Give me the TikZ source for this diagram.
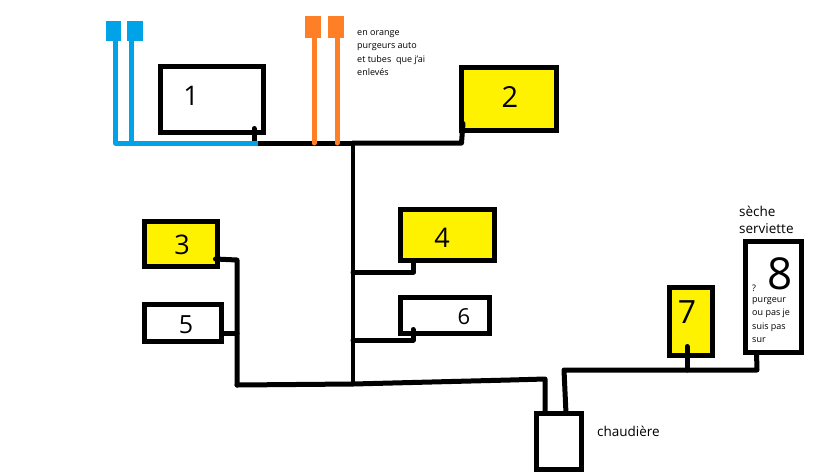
\documentclass[tikz,border=0pt]{standalone}
\usepackage{fontspec}
\setmainfont{Open Sans}
\begin{document}
\begin{tikzpicture}[
        x=1pt, y=-1pt,
        rad/.style={rectangle, draw=black, line width=5pt, inner sep=0pt, outer sep=0pt},
        hot/.style={rad, fill=radyellow},
        purge/.style={rectangle, inner sep=0pt, outer sep=0pt},
        pipe/.style={line width=5pt, line cap=round, line join=round},
        digit/.style={inner sep=0pt, font=\fontsize{#1}{#1}\selectfont},
        note/.style={inner sep=0pt, anchor=north west, align=left, font=\fontsize{9}{13.25}\selectfont},
        caption/.style={inner sep=0pt, anchor=north west, align=left, font=\fontsize{13.5}{17}\selectfont}
    ]
        \definecolor{radyellow}{HTML}{FFF200}
        \definecolor{pipeblue}{HTML}{00A2E8}
        \definecolor{pipeorange}{HTML}{FF7F27}
        \useasboundingbox (0,0) rectangle (819,475);

        % Radiators
        \node[rad, minimum width=103pt, minimum height=66pt] (r1) at (212,99.5) {};
        \node[hot, minimum width=95pt, minimum height=63pt] (r2) at (509,99) {};
        \node[hot, minimum width=73pt, minimum height=45pt] (r3) at (181,244) {};
        \node[hot, minimum width=94pt, minimum height=51pt] (r4) at (447.5,235) {};
        \node[rad, minimum width=77pt, minimum height=37pt] (r5) at (183,323) {};
        \node[rad, minimum width=89pt, minimum height=36pt] (r6) at (445,315.5) {};
        \node[hot, minimum width=43pt, minimum height=68pt] (r7) at (691,321.5) {};
        \node[rad, minimum width=56pt, minimum height=111pt] (r8) at (773.5,297) {};
        \node[rad, minimum width=45pt, minimum height=56pt] (boiler) at (559,441.5) {};

        % Numbers
        \node[digit=27] (n1) at (191,96) {1};
        \node[digit=29] (n2) at (510,97) {2};
        \node[digit=27] (n3) at (182,245) {3};
        \node[digit=27] (n4) at (442,238) {4};
        \node[digit=25] (n5) at (186,325) {5};
        \node[digit=22] (n6) at (464,317) {6};
        \node[digit=32] (n7) at (687,312) {7};
        \node[digit=44] (n8) at (780,274) {8};

        % Purgers
        \node[purge, fill=pipeblue, minimum width=15pt, minimum height=20pt] (b1) at (113.5,31) {};
        \node[purge, fill=pipeblue, minimum width=16pt, minimum height=20pt] (b2) at (135,31) {};
        \node[purge, fill=pipeorange, minimum width=16pt, minimum height=22pt] (o1) at (313,27) {};
        \node[purge, fill=pipeorange, minimum width=16pt, minimum height=22pt] (o2) at (336,27) {};

        % Junctions
        \coordinate (jblue) at (258,143);
        \coordinate (jtop) at (353,143);
        \coordinate (jfour) at (353,272);
        \coordinate (jsix) at (353,340);
        \coordinate (jbot) at (353,384);
        \coordinate (jleft) at (237,385);
        \coordinate (jfive) at (237,333);
        \coordinate (jseven) at (687,370);

        % Black pipes
        \draw[pipe] ([shift={(-9.5,-4)}]r1.south east) -- ([xshift=-9.5pt]r1.south east |- jblue) -- (jtop);
        \draw[pipe] (jtop) -- (r2.south west |- jtop) -- ([shift={(1.5,-7)}]r2.south west);
        \draw[pipe, line width=4.5pt] (jtop) -- (jbot);
        \draw[pipe] (jfour) -- ([xshift=-34pt]r4.south |- jfour) -- ([xshift=-34pt]r4.south);
        \draw[pipe] (jsix) -- ([xshift=-32pt]r6.south |- jsix) -- ([shift={(-32,-4)}]r6.south);
        \draw[pipe] ([shift={(-2,15)}]r3.east) -- (jleft |- {0,260}) -- (jleft);
        \draw[pipe] (r5.east) ++(0,10) -- (jfive);
        \draw[pipe] (jleft) -- (jbot) -- (510,380) -- (545,379) -- ([xshift=-14pt]boiler.north);
        \draw[pipe] ([xshift=7pt]boiler.north) -- (564,370) -- (jseven) -- (757,370) -- ([xshift=-17pt]r8.south);
        \draw[pipe] (jseven) -- ([shift={(-4,-9)}]r7.south);

        % Blue pipes
        \draw[pipe, pipeblue, line cap=butt] ([xshift=2pt]b1.south) -- ([xshift=2pt]b1.south |- jblue) -- (jblue);
        \draw[pipe, pipeblue, line cap=butt] ([xshift=-4pt]b2.south) -- ([xshift=-4pt]b2.south |- jblue);

        % Orange pipes
        \draw[pipe, pipeorange] ([xshift=1pt]o1.south) -- ([xshift=1pt]o1.south |- jtop);
        \draw[pipe, pipeorange] ([xshift=1pt]o2.south) -- ([xshift=1pt]o2.south |- jtop);

        % Labels
        \node[note] (orange) at (357,30.5) {en orange\\purgeurs auto\\et tubes~ que j'ai\\enlevés};
        \node[caption] (towel) at (739,206) {sèche\\serviette};
        \node[note] (ask) at (752,284.5) {?};
        \node[note] (doubt) at (752,297.5) {purgeur\\ou pas je\\suis pas\\sur};
        \node[caption] (boilername) at (597,425.5) {chaudière};
    \end{tikzpicture}
\end{document}
